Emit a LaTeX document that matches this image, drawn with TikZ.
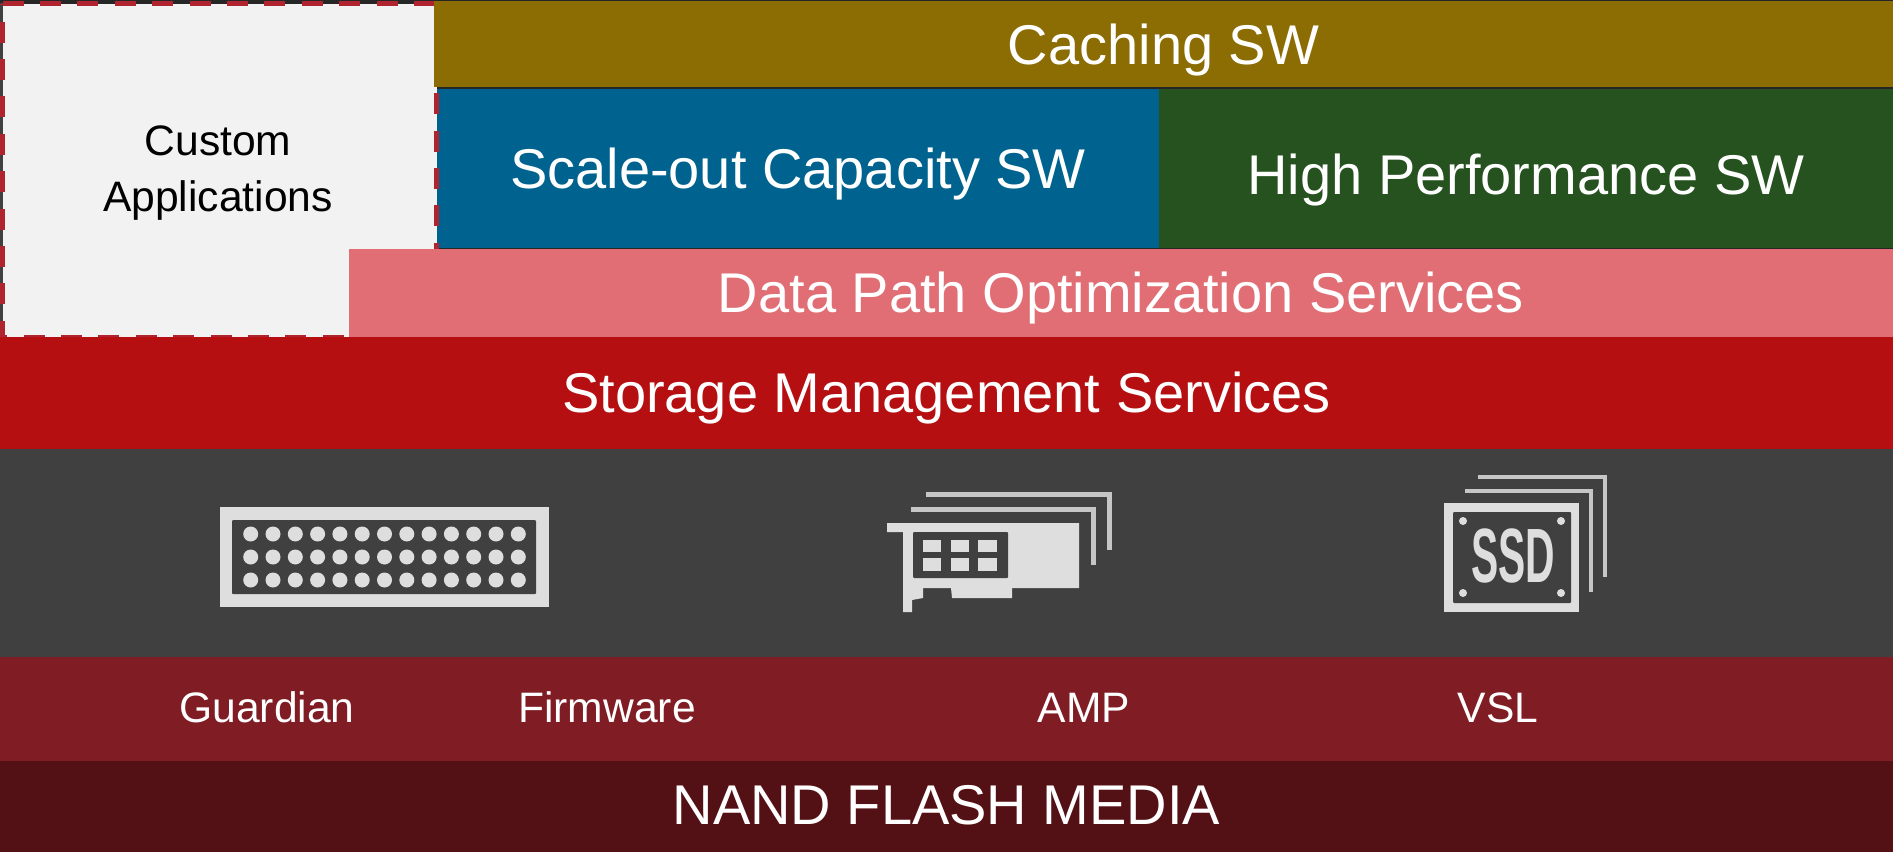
\documentclass[tikz,border=0pt]{standalone}
\usepackage{fontspec}
\setmainfont{Liberation Sans}
\usetikzlibrary{positioning}
\definecolor{hairline}{HTML}{262626}
\definecolor{cachegold}{HTML}{8B6D04}
\definecolor{scaleblue}{HTML}{00628F}
\definecolor{perfgreen}{HTML}{25521E}
\definecolor{datapink}{HTML}{E06E74}
\definecolor{storered}{HTML}{B50F12}
\definecolor{slategray}{HTML}{404040}
\definecolor{winered}{HTML}{801C24}
\definecolor{nandred}{HTML}{541115}
\definecolor{customfill}{HTML}{F2F2F2}
\definecolor{dashred}{HTML}{B0242F}
\definecolor{iconlight}{HTML}{DEDEDE}
\begin{document}
\begin{tikzpicture}[x=1pt,y=-1pt,node distance=0pt,
	band/.style={inner sep=0pt,outer sep=0pt,text=white,text height=40pt,text depth=0pt,font=\fontsize{56}{60}\selectfont},
	small label/.style={inner sep=0pt,outer sep=0pt,text=white,text height=30pt,text depth=0pt,font=\fontsize{42.6}{50}\selectfont},
	back card/.style={draw=iconlight!85!slategray,line width=5pt},
	icon part/.style={fill=iconlight,draw=none},
	icon hole/.style={fill=slategray,draw=none}]

	\useasboundingbox (0,0) rectangle (1893,852);
	\fill[hairline] (0,0) rectangle (1893,852);
	\fill[slategray] (0,3) rectangle (3,337);

	\node[band,fill=scaleblue,minimum width=722pt,minimum height=159pt] (scale) at (798,168.5) {Scale-out Capacity SW};
	\node[band,fill=perfgreen,minimum width=734pt,minimum height=159pt,right=of scale,text height=52pt] (perf) {High Performance SW};

	\node[fill=customfill,inner sep=0pt,outer sep=0pt,minimum width=434pt,minimum height=333.5pt] (custom) at (219.5,170.25) {};
	\draw[dashred,line width=5pt,dash pattern=on 21pt off 16.4pt] (custom.north west) -- (custom.north east) -- (custom.south east) -- (custom.south west) -- cycle;
	\node[align=center,inner sep=0pt,font=\fontsize{42.6}{56}\selectfont] (customtext) at (218,173) {Custom\\Applications};

	\node[band,fill=cachegold,minimum width=1459pt,minimum height=86pt] (cache) at (1163.5,44) {Caching SW};
	\node[band,fill=datapink,minimum width=1544pt,minimum height=88pt,text height=38pt] (data) at (1121,293) {Data Path Optimization Services};

	\node[band,fill=storered,minimum width=1893pt,minimum height=112pt,text height=38pt] (storage) at (946.5,393) {Storage Management Services};
	\node[band,fill=slategray,minimum width=1893pt,minimum height=208pt,below=of storage] (drivers) {};
	\node[band,fill=winered,minimum width=1893pt,minimum height=104pt,below=of drivers] (wine) {};
	\node[band,fill=nandred,minimum width=1893pt,minimum height=91pt,below=of wine,text height=36pt] (media) {NAND FLASH MEDIA};

	\node[small label] (guardian) at (267,707) {Guardian};
	\node[small label] (firmware) at (607,707) {Firmware};
	\node[small label] (amp) at (1084,707) {AMP};
	\node[small label] (vsl) at (1498,707) {VSL};

	% guardian icon
	\fill[icon part] (220,507) rectangle (549,607);
	\fill[icon hole,rounded corners=1pt] (232,520) rectangle (536,594);
	\foreach \row in {534,557,580}
		\foreach \col in {0,...,12}
			\fill[icon part] (250.7+22.3*\col,\row) circle (7.5);

	% amp icon
	\draw[back card] (926,494) -- (1109,494) -- (1109,550);
	\draw[back card] (911,509) -- (1093,509) -- (1093,565);
	\fill[icon part] (887,523) -- (1079,523) -- (1079,588) -- (1012,588) -- (1012,598) -- (952,598) -- (951,588) -- (923,588) -- (923,598) -- (912,600) -- (912,612) -- (903,612) -- (903,532) -- (887,532) -- cycle;
	\fill[icon hole,rounded corners=1pt] (913,532) rectangle (1008,578);
	\foreach \col/\wid in {923/18,951/17.5,978/19}
		\foreach \row/\hgt in {540/12,558/13}
			\fill[icon part] (\col,\row) rectangle ++(\wid,\hgt);

	% vsl icon
	\draw[back card,line width=4.5pt] (1478,477) -- (1605,477) -- (1605,577);
	\draw[back card,line width=4.5pt] (1465,491) -- (1591,491) -- (1591,592);
	\fill[icon part] (1444,503) rectangle (1579,612);
	\fill[icon hole,rounded corners=1pt] (1453,512) rectangle (1571,603);
	\foreach \col in {1463,1561}
		\foreach \row in {521,593}
			\fill[icon part] (\col,\row) circle (4);
	\node[inner sep=0pt,text=iconlight,xscale=.53,font=\fontsize{77}{80}\selectfont\bfseries] (ssd) at (1513,556) {SSD};
\end{tikzpicture}
\end{document}
